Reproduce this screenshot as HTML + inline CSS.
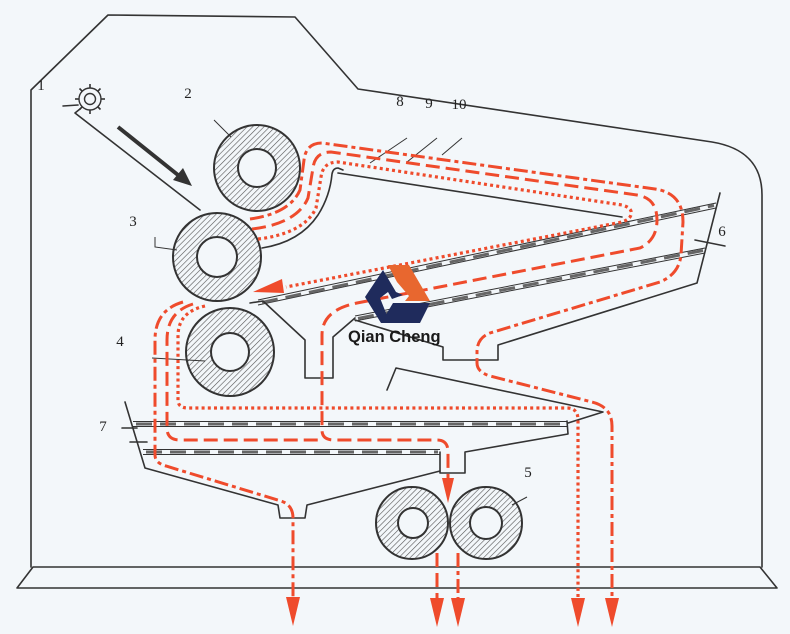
<!DOCTYPE html>
<html>
<head>
<meta charset="utf-8">
<style>
  html,body{margin:0;padding:0;background:#f3f7fa;}
  svg{display:block;}
  .w{fill:none;stroke:#333;stroke-width:1.6;stroke-linejoin:round;stroke-linecap:round;}
  .t{font-family:"Liberation Serif",serif;font-size:15px;fill:#222;text-anchor:middle;}
  .dd{fill:none;stroke:#ef4b2c;stroke-width:3;stroke-dasharray:14 4 4 4;}
  .da{fill:none;stroke:#ef4b2c;stroke-width:3;stroke-dasharray:14 6;}
  .do{fill:none;stroke:#ef4b2c;stroke-width:3.2;stroke-dasharray:3 3.2;}
  .ah{fill:#ef4b2c;}
  .b1{fill:none;stroke:#333;stroke-width:1;}
  .b2{fill:none;stroke:#666;stroke-width:3;stroke-dasharray:16 8;}
</style>
</head>
<body>
<svg width="790" height="634" viewBox="0 0 790 634" xmlns="http://www.w3.org/2000/svg">
  <defs>
    <pattern id="h" width="4" height="4" patternUnits="userSpaceOnUse" patternTransform="rotate(45)">
      <rect width="4" height="4" fill="#f3f7fa"/>
      <line x1="0" y1="0" x2="0" y2="4" stroke="#555" stroke-width="1.2"/>
    </pattern>
  </defs>
  <rect width="790" height="634" fill="#f3f7fa"/>

  <!-- outer frame -->
  <path class="w" d="M31,567 L31,90 L108,15 L295,17 L358,89 L712,142 C742,147 762,162 762,195 L762,567"/>
  <path class="w" d="M33,567 L760,567 L777,588 L17,588 Z"/>

  <!-- gear 1 -->
  <g stroke="#333" stroke-width="1.4" fill="none">
    <circle cx="90" cy="99" r="11"/>
    <circle cx="90" cy="99" r="5.5"/>
  </g>
  <g stroke="#333" stroke-width="1.6">
    <line x1="90" y1="88" x2="90" y2="84"/>
    <line x1="90" y1="110" x2="90" y2="114"/>
    <line x1="79" y1="99" x2="75" y2="99"/>
    <line x1="101" y1="99" x2="105" y2="99"/>
    <line x1="82" y1="91" x2="79.5" y2="88.5"/>
    <line x1="98" y1="91" x2="100.5" y2="88.5"/>
    <line x1="82" y1="107" x2="79.5" y2="109.5"/>
    <line x1="98" y1="107" x2="100.5" y2="109.5"/>
  </g>
  <line class="w" x1="63" y1="106" x2="78" y2="105" stroke-width="1"/>
  <path class="w" d="M80,109 L75,113 L200,210"/>

  <!-- dark feed arrow -->
  <line x1="118" y1="127" x2="178" y2="175" stroke="#333" stroke-width="4"/>
  <polygon points="192,186 173,180 183,168" fill="#333"/>

  <!-- upper curved wall and deflector plate -->
  <path class="w" d="M262,248 Q300,242 318,215 Q330,196 332,174 Q333,168 338,168 L343,170"/>
  <path class="w" d="M338,173 L622,217"/>

  <!-- screen 6 upper band -->
  <g>
    <line class="b1" x1="258" y1="300" x2="716" y2="203"/>
    <line class="b1" x1="258" y1="305" x2="716" y2="208"/>
    <line class="b2" x1="262" y1="302.5" x2="714" y2="205.5"/>
  </g>
  <!-- screen 6 lower band -->
  <g>
    <line class="b1" x1="355" y1="316" x2="705" y2="248"/>
    <line class="b1" x1="355" y1="321" x2="705" y2="253"/>
    <line class="b2" x1="358" y1="318.5" x2="703" y2="250.5"/>
  </g>
  <!-- screen 6 box -->
  <path class="w" d="M720,193 L697,283 L498,345 L498,360 L443,360 L443,347 L355,320"/>
  <line class="w" x1="695" y1="240" x2="725" y2="246" stroke-width="1"/>

  <!-- middle hopper -->
  <path class="w" d="M250,303 L263,301 L305,340 L305,378 L333,378 L333,337 L355,318"/>

  <!-- lower deflector plate -->
  <path class="w" d="M387,390 L396,368 L603,412 L568,423"/>

  <!-- screen 7 -->
  <g>
    <line class="b1" x1="133" y1="421.5" x2="567" y2="421.5"/>
    <line class="b1" x1="133" y1="426.5" x2="567" y2="426.5"/>
    <line class="b2" x1="136" y1="424" x2="565" y2="424"/>
    <line class="b1" x1="143" y1="449.5" x2="440" y2="449.5"/>
    <line class="b1" x1="143" y1="454.5" x2="440" y2="454.5"/>
    <line class="b2" x1="146" y1="452" x2="438" y2="452"/>
  </g>
  <path class="w" d="M125,402 L145,468 L278,505 L280,518 L305,518 L307,505 L440,471"/>
  <path class="w" d="M567,421 L568,434 L465,452 L465,473 L440,473 L440,452"/>
  <line class="w" x1="122" y1="428" x2="137" y2="428" stroke-width="1"/>
  <line class="w" x1="130" y1="442" x2="147" y2="442" stroke-width="1"/>

  <!-- rolls -->
  <g stroke="#333" stroke-width="2">
    <circle cx="257" cy="168" r="43" fill="url(#h)"/>
    <circle cx="257" cy="168" r="19" fill="#f3f7fa"/>
    <circle cx="217" cy="257" r="44" fill="url(#h)"/>
    <circle cx="217" cy="257" r="20" fill="#f3f7fa"/>
    <circle cx="230" cy="352" r="44" fill="url(#h)"/>
    <circle cx="230" cy="352" r="19" fill="#f3f7fa"/>
    <circle cx="412" cy="523" r="36" fill="url(#h)"/>
    <circle cx="413" cy="523" r="15" fill="#f3f7fa"/>
    <circle cx="486" cy="523" r="36" fill="url(#h)"/>
    <circle cx="486" cy="523" r="16" fill="#f3f7fa"/>
  </g>

  <!-- leaders -->
  <g stroke="#333" stroke-width="1" fill="none">
    <line x1="214" y1="120" x2="231" y2="137"/>
    <path d="M155,237 L155,247 L177,250"/>
    <line x1="152" y1="358" x2="205" y2="361"/>
    <line x1="527" y1="497" x2="512" y2="505"/>
    <line x1="370" y1="163" x2="407" y2="138"/>
    <line x1="407" y1="162" x2="437" y2="138"/>
    <line x1="442" y1="155" x2="462" y2="138"/>
  </g>

  <!-- labels -->
  <text class="t" x="41" y="90">1</text>
  <text class="t" x="188" y="98">2</text>
  <text class="t" x="133" y="226">3</text>
  <text class="t" x="120" y="346">4</text>
  <text class="t" x="528" y="477">5</text>
  <text class="t" x="722" y="236">6</text>
  <text class="t" x="103" y="431">7</text>
  <text class="t" x="400" y="106">8</text>
  <text class="t" x="429" y="108">9</text>
  <text class="t" x="459" y="109">10</text>

  <!-- red flow paths (upper) -->
  <path class="dd" d="M250,219 C272,216 292,208 300,190 L304,160 Q306,143 322,143 L655,189 Q683,193 683,222 L681,255 Q679,274 660,282 L490,333 Q477,338 477,352 L477,363 Q477,372 490,376 L592,402 Q612,407 612,426 L612,600"/>
  <path class="da" d="M252,229 C278,226 300,217 308,198 L313,168 Q315,152 331,152 L637,195 Q657,198 657,220 Q657,240 640,248 L357,303 Q322,310 322,335 L322,430 Q322,440 334,440 L437,440 Q448,440 448,452 L448,480"/>
  <path class="do" d="M258,239 C285,236 308,226 316,208 L321,177 Q323,162 338,162 L622,205 Q633,208 631,215 Q629,221 617,223 L286,287"/>

  <!-- red flow paths (left) -->
  <path class="dd" d="M183,302 Q155,310 155,340 L155,455 Q155,463 166,466 L281,501 Q293,505 293,518 L293,598"/>
  <path class="da" d="M193,304 Q167,312 167,340 L167,428 Q167,440 180,440 L322,440"/>
  <path class="do" d="M205,306 Q178,312 178,336 L178,400 Q178,408 188,408 L567,408 Q578,408 578,420 L578,600"/>

  <!-- bottom streams -->
  <line class="da" x1="437" y1="553" x2="437" y2="600"/>
  <line class="dd" x1="458" y1="553" x2="458" y2="600"/>

  <!-- arrowheads -->
  <polygon class="ah" points="253,292 282,279 284,293"/>
  <polygon class="ah" points="286,597 300,597 293,626"/>
  <polygon class="ah" points="430,598 444,598 437,627"/>
  <polygon class="ah" points="451,598 465,598 458,627"/>
  <polygon class="ah" points="571,598 585,598 578,627"/>
  <polygon class="ah" points="605,598 619,598 612,627"/>
  <polygon class="ah" points="442,478 454,478 448,503"/>

  <!-- logo -->
  <g>
    <polygon points="388,265 409,265 430,301 405,301 409,296 397,282" fill="#e8672f"/>
    <polygon points="383,270 396,292 403,295 392,299 388,292 380,298 388,318 381,323 365,297" fill="#1f2b5c"/>
    <polygon points="393,303 430,303 420,323 381,323" fill="#1f2b5c"/>
    <text x="348" y="342" font-family="'Liberation Sans',sans-serif" font-weight="bold" font-size="16.5" fill="#1a1a1a">Qian Cheng</text>
  </g>
</svg>
</body>
</html>
